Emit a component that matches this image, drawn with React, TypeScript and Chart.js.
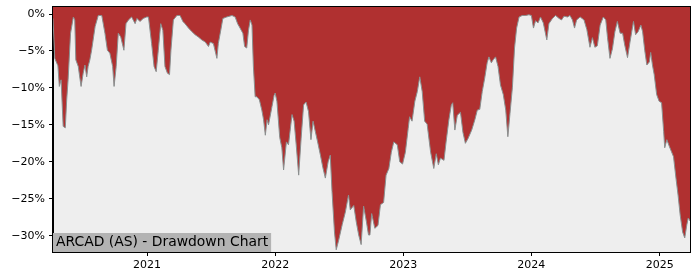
import React, { useEffect, useRef } from "react";
import { Chart, registerables } from "chart.js";

Chart.register(...registerables);

const TITLE = "ARCAD (AS) - Drawdown Chart";

const dates: string[] = [
  "2020-04-08","2020-04-13","2020-04-22","2020-04-26","2020-05-01","2020-05-07","2020-05-13","2020-05-17","2020-05-21","2020-05-28",
  "2020-06-05","2020-06-09","2020-06-12","2020-06-19","2020-06-27","2020-07-03","2020-07-08","2020-07-13","2020-07-17","2020-07-22",
  "2020-07-27","2020-08-06","2020-08-15","2020-08-25","2020-09-03","2020-09-10","2020-09-17","2020-09-25","2020-09-29","2020-10-05",
  "2020-10-11","2020-10-18","2020-10-27","2020-11-02","2020-11-09","2020-11-18","2020-11-28","2020-12-03","2020-12-12","2020-12-21",
  "2020-12-31","2021-01-05","2021-01-14","2021-01-21","2021-01-27","2021-02-02","2021-02-09","2021-02-15","2021-02-21","2021-02-28",
  "2021-03-06","2021-03-10","2021-03-17","2021-03-27","2021-04-05","2021-04-13","2021-04-19","2021-04-29","2021-05-09","2021-05-18",
  "2021-05-27","2021-06-06","2021-06-16","2021-06-25","2021-06-30","2021-07-09","2021-07-19","2021-07-23","2021-07-30","2021-08-05",
  "2021-08-16","2021-08-31","2021-09-09","2021-09-16","2021-09-23","2021-10-01","2021-10-06","2021-10-12","2021-10-17","2021-10-22",
  "2021-10-27","2021-10-31","2021-11-05","2021-11-10","2021-11-17","2021-11-24","2021-11-29","2021-12-04","2021-12-09","2021-12-13",
  "2021-12-23","2021-12-29","2022-01-01","2022-01-06","2022-01-14","2022-01-20","2022-01-25","2022-02-02","2022-02-08","2022-02-18",
  "2022-02-24","2022-03-02","2022-03-09","2022-03-16","2022-03-23","2022-03-30","2022-04-06","2022-04-13","2022-04-19","2022-04-25",
  "2022-05-02","2022-05-10","2022-05-17","2022-05-24","2022-06-01","2022-06-07","2022-06-12","2022-06-19","2022-06-24","2022-07-01",
  "2022-07-11","2022-07-20","2022-07-29","2022-08-03","2022-08-13","2022-08-20","2022-08-27","2022-09-03","2022-09-10","2022-09-18",
  "2022-09-24","2022-09-28","2022-10-03","2022-10-12","2022-10-21","2022-10-28","2022-11-06","2022-11-13","2022-11-21","2022-11-28",
  "2022-12-05","2022-12-15","2022-12-22","2022-12-30","2023-01-07","2023-01-15","2023-01-19","2023-01-26","2023-02-03","2023-02-10",
  "2023-02-17","2023-02-24","2023-03-03","2023-03-10","2023-03-20","2023-03-29","2023-04-05","2023-04-11","2023-04-17","2023-04-27",
  "2023-05-03","2023-05-11","2023-05-18","2023-05-22","2023-05-28","2023-06-04","2023-06-13","2023-06-20","2023-06-27","2023-07-05",
  "2023-07-15","2023-07-24","2023-07-31","2023-08-07","2023-08-14","2023-08-21","2023-08-28","2023-09-02","2023-09-09","2023-09-14",
  "2023-09-21","2023-09-28","2023-10-05","2023-10-13","2023-10-20","2023-10-26","2023-11-01","2023-11-08","2023-11-14","2023-11-20",
  "2023-11-27","2023-12-06","2023-12-16","2023-12-25","2024-01-01","2024-01-07","2024-01-13","2024-01-20","2024-01-27","2024-02-04",
  "2024-02-14","2024-02-20","2024-03-01","2024-03-10","2024-03-20","2024-03-27","2024-04-03","2024-04-13","2024-04-20","2024-04-27",
  "2024-05-03","2024-05-09","2024-05-19","2024-05-30","2024-06-07","2024-06-16","2024-06-23","2024-06-30","2024-07-07","2024-07-15",
  "2024-07-24","2024-07-31","2024-08-05","2024-08-12","2024-08-19","2024-08-26","2024-09-02","2024-09-10","2024-09-17","2024-09-23",
  "2024-10-01","2024-10-08","2024-10-18","2024-10-24","2024-10-31","2024-11-08","2024-11-13","2024-11-19","2024-11-25","2024-12-02",
  "2024-12-06","2024-12-11","2024-12-16","2024-12-23","2024-12-30","2025-01-06","2025-01-12","2025-01-15","2025-01-21","2025-01-28",
  "2025-02-03","2025-02-09","2025-02-16","2025-02-22","2025-02-28","2025-03-07","2025-03-13","2025-03-19","2025-03-23","2025-03-28",
];

const drawdown: number[] = [
  -0.6,-6.0,-7.0,-9.8,-8.9,-15.2,-15.4,-11.6,-8.9,-2.6,
  -0.4,-0.8,-6.2,-7.1,-9.8,-8.0,-6.9,-8.5,-7.1,-6.2,
  -4.9,-1.7,-0.2,-0.2,-2.6,-4.9,-5.3,-7.1,-9.8,-7.1,
  -2.6,-3.1,-4.9,-1.3,-0.8,-0.4,-1.3,-0.6,-1.0,-0.6,
  -0.4,-0.4,-4.0,-7.1,-7.8,-4.9,-1.3,-2.2,-7.1,-8.0,
  -8.2,-4.9,-0.8,-0.2,-0.2,-1.0,-1.3,-1.9,-2.4,-2.8,
  -3.1,-3.5,-3.8,-4.4,-3.8,-4.0,-6.0,-4.0,-2.2,-0.6,
  -0.4,-0.2,-0.4,-1.3,-1.9,-2.6,-4.4,-4.6,-2.2,-0.8,
  -1.5,-7.1,-11.2,-11.2,-11.6,-13.0,-14.3,-16.4,-14.3,-15.0,
  -12.5,-11.0,-10.7,-11.8,-16.7,-18.1,-21.1,-17.3,-17.7,-13.6,
  -14.5,-17.7,-21.8,-16.8,-12.3,-11.9,-13.2,-17.0,-14.5,-15.8,
  -17.3,-19.1,-20.8,-22.2,-20.0,-19.1,-24.0,-29.5,-31.9,-30.6,
  -28.5,-26.8,-24.5,-26.5,-25.9,-28.1,-29.9,-31.2,-26.0,-28.1,
  -29.9,-29.9,-27.0,-29.0,-28.6,-25.8,-25.5,-21.8,-20.9,-18.7,
  -17.3,-17.7,-20.0,-20.3,-18.7,-15.5,-13.9,-14.5,-11.8,-10.5,
  -8.5,-10.5,-14.5,-14.9,-18.7,-20.9,-18.9,-20.4,-19.5,-19.8,
  -17.3,-14.3,-12.3,-12.0,-15.7,-13.7,-13.3,-16.0,-17.5,-16.8,
  -15.7,-14.3,-13.0,-12.9,-10.5,-8.7,-6.6,-5.8,-6.6,-6.2,
  -5.8,-7.1,-9.6,-10.9,-13.0,-16.6,-13.5,-9.9,-4.6,-1.9,
  -0.4,-0.2,-0.2,-0.1,-0.2,-1.9,-0.9,-1.2,-0.4,-1.2,
  -3.5,-1.3,-0.6,-0.2,-0.6,-0.8,-0.3,-0.4,-0.2,-0.8,
  -1.9,-0.8,-0.4,-0.8,-2.1,-4.5,-3.2,-4.5,-4.3,-1.5,
  -0.4,-0.8,-3.2,-6.0,-4.7,-2.4,-1.0,-2.6,-2.6,-4.2,
  -5.9,-3.8,-1.0,-2.8,-2.4,-1.5,-2.4,-4.9,-6.9,-6.5,
  -5.2,-6.9,-8.2,-10.9,-11.8,-12.0,-15.9,-18.1,-17.0,-17.9,
  -18.6,-19.3,-22.2,-24.5,-27.2,-29.5,-30.3,-28.5,-27.6,-28.0,
];

const yearTicks: number[] = [2021, 2022, 2023, 2024, 2025];
const pctTicks: number[] = [0, -5, -10, -15, -20, -25, -30];
const yMin = -32.2;
const yMax = 0.95;

const FONT = "'DejaVu Sans', sans-serif";

export default function App() {
  const ref = useRef<HTMLCanvasElement | null>(null);

  useEffect(() => {
    const canvas = ref.current;
    if (!canvas) return;
    const points = dates.map((d, i) => ({ x: Date.parse(d + "T00:00:00Z"), y: drawdown[i] }));

    const framePlugin = {
      id: "frame",
      beforeDraw(chart: any) {
        const { ctx, chartArea: a } = chart;
        ctx.save();
        ctx.fillStyle = "#ffffff";
        ctx.fillRect(0, 0, chart.width, chart.height);
        ctx.fillStyle = "#eeeeee";
        ctx.fillRect(a.left, a.top, a.right - a.left, a.bottom - a.top);
        ctx.restore();
      },
      afterDraw(chart: any) {
        const { ctx, chartArea: a } = chart;
        ctx.save();
        ctx.font = `13.9px ${FONT}`;
        const tw = ctx.measureText(TITLE).width;
        ctx.fillStyle = "#b3b3b3";
        ctx.fillRect(a.left, a.bottom - 19, tw + 6, 19);
        ctx.fillStyle = "#000000";
        ctx.textBaseline = "middle";
        ctx.textAlign = "left";
        ctx.fillText(TITLE, a.left + 3, a.bottom - 9.5);
        ctx.strokeStyle = "#000000";
        ctx.lineWidth = 1;
        ctx.strokeRect(Math.round(a.left) - 0.5, Math.round(a.top) - 0.5, Math.round(a.right - a.left) + 1, Math.round(a.bottom - a.top) + 1);
        ctx.restore();
      },
    };

    const chart = new Chart(canvas, {
      type: "line",
      data: {
        datasets: [
          {
            data: points,
            borderColor: "#8a8f8f",
            borderWidth: 1,
            backgroundColor: "#b03030",
            fill: "end",
            pointRadius: 0,
            tension: 0,
          },
        ],
      },
      options: {
        responsive: false,
        animation: false,
        events: [],
        layout: { padding: { top: 7, right: 10, left: 0, bottom: 0 } },
        plugins: { legend: { display: false }, tooltip: { enabled: false }, title: { display: false } },
        scales: {
          x: {
            type: "linear",
            min: points[0].x,
            max: points[points.length - 1].x,
            afterBuildTicks: (scale: any) => {
              scale.ticks = yearTicks.map((y) => ({ value: Date.UTC(y, 0, 1) }));
            },
            afterFit: (scale: any) => {
              scale.height = 28;
              scale.paddingLeft = 0;
              scale.paddingRight = 0;
            },
            ticks: {
              autoSkip: false,
              maxRotation: 0,
              color: "#000000",
              padding: 3,
              font: { family: FONT, size: 11 },
              callback: (v: any) => String(new Date(Number(v)).getUTCFullYear()),
            },
            grid: { drawOnChartArea: false, drawTicks: true, tickLength: 4, color: "#000000" },
            border: { display: true, color: "#000000" },
          },
          y: {
            type: "linear",
            min: yMin,
            max: yMax,
            afterBuildTicks: (scale: any) => {
              scale.ticks = pctTicks.map((v) => ({ value: v }));
            },
            afterFit: (scale: any) => {
              scale.width = 53;
              scale.paddingTop = 0;
              scale.paddingBottom = 0;
            },
            ticks: {
              autoSkip: false,
              color: "#000000",
              padding: 4,
              font: { family: FONT, size: 11 },
              callback: (v: any) => (Number(v) === 0 ? "0%" : "\u2212" + Math.abs(Number(v)) + "%"),
            },
            grid: { drawOnChartArea: false, drawTicks: true, tickLength: 4, color: "#000000" },
            border: { display: true, color: "#000000" },
          },
        },
      },
      plugins: [framePlugin],
    });
    return () => chart.destroy();
  }, []);

  return (
    <div style={{ position: "fixed", left: 0, top: 0, width: 700, height: 280, background: "#ffffff" }}>
      <canvas ref={ref} width={700} height={280} style={{ width: 700, height: 280 }} />
    </div>
  );
}
